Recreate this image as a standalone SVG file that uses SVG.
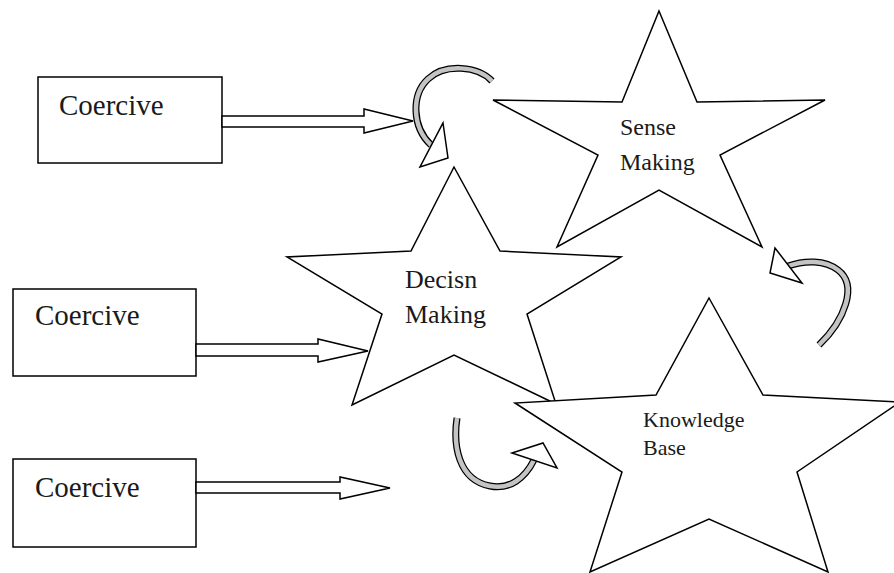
<svg xmlns="http://www.w3.org/2000/svg" width="894" height="573" viewBox="0 0 894 573">
<style>
.box{fill:#fff;stroke:#000;stroke-width:1.5}
.star{fill:#fff;stroke:#000;stroke-width:1.5;stroke-linejoin:miter}
.blk{fill:#fff;stroke:#000;stroke-width:1.5;stroke-linejoin:miter}
.bandO{fill:none;stroke:#000;stroke-width:7}
.bandI{fill:none;stroke:#c4c4c4;stroke-width:4.5}
.head{fill:#fff;stroke:#000;stroke-width:1.5;stroke-linejoin:miter}
.t{font-family:"Liberation Serif","Times New Roman",serif;fill:#1a1a1a}
</style>
<rect width="894" height="573" fill="#fff"/>
<g id="coercive1"><rect class="box" x="38" y="77" width="184" height="86"/><text class="t" x="59" y="115" font-size="29">Coercive</text></g>
<g id="coercive2"><rect class="box" x="13" y="289" width="183" height="87"/><text class="t" x="35" y="325" font-size="29">Coercive</text></g>
<g id="coercive3"><rect class="box" x="13" y="459" width="183" height="88"/><text class="t" x="35" y="497" font-size="29">Coercive</text></g>
<g id="sense"><polygon class="star" points="659,11 697,102 825,100 720,155 762,247 659,190 557,247 598,155 493,100 622,102"/><text class="t" x="620" y="135" font-size="24">Sense</text><text class="t" x="620" y="170" font-size="24">Making</text></g>
<g id="decision"><polygon class="star" points="454,167 500,251 621,257 527,314 556,404 454,355 352,405 382,314 287,257 411,251"/><text class="t" x="405" y="288" font-size="26">Decisn</text><text class="t" x="405" y="323" font-size="26">Making</text></g>
<g id="knowledge"><polygon class="star" points="709,298 763,395 900,402 797,472 828,572 709,519 590,572 622,472 515,403 656,395"/><text class="t" x="643" y="427" font-size="22">Knowledge</text><text class="t" x="643" y="455" font-size="22">Base</text></g>
<g id="connectors">
<polygon class="blk" points="222,116 364,116 364,109 413,121 364,133 364,127 222,127"/>
<polygon class="blk" points="196,344 318,344 318,339 368,351 318,362 318,356 196,356"/>
<polygon class="blk" points="196,482 340,482 340,477 390,488 340,499 340,493 196,493"/>
<path class="bandO" d="M492,81 C478,66 445,63 428,79 C411,95 412,127 431,145"/>
<path class="bandI" d="M492,81 C478,66 445,63 428,79 C411,95 412,127 431,145"/>
<polygon class="head" points="443,123 448,158 420,167"/>
<path class="bandO" d="M819,345 C845,320 858,285 838,270 C825,260 805,260 788,266"/>
<path class="bandI" d="M819,345 C845,320 858,285 838,270 C825,260 805,260 788,266"/>
<polygon class="head" points="775,248 770,273 802,283"/>
<path class="bandO" d="M457,418 C453,445 458,480 490,486 C510,490 525,478 534,460"/>
<path class="bandI" d="M457,418 C453,445 458,480 490,486 C510,490 525,478 534,460"/>
<polygon class="head" points="512,453 543,443 557,468"/>
</g>
</svg>
